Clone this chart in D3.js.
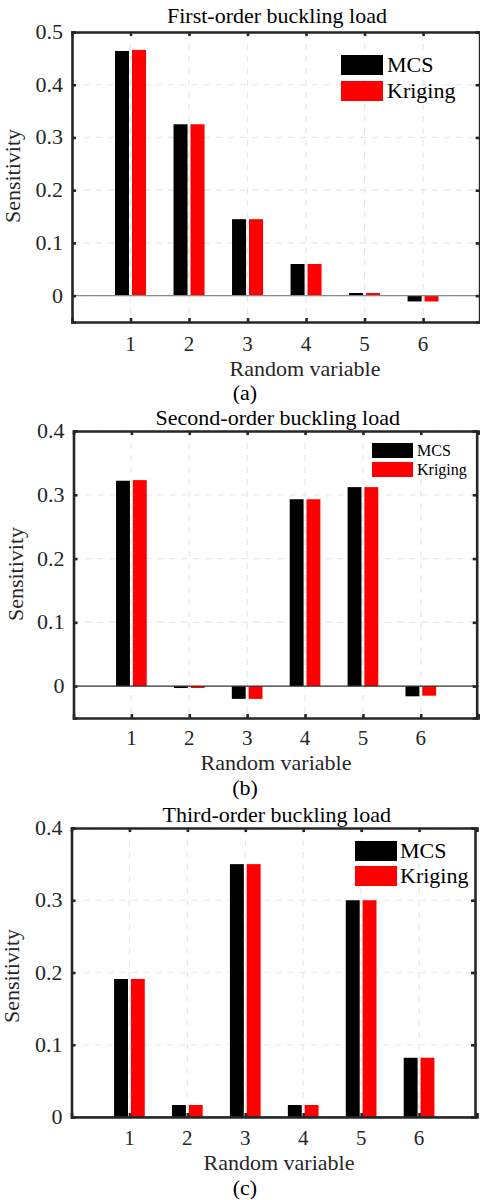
<!DOCTYPE html>
<html>
<head>
<meta charset="utf-8">
<script src="https://cdn.jsdelivr.net/npm/d3@7"></script>
<style>
  body { margin: 0; background: #fff; }
  svg { display: block; }
  svg text { font-family: "Liberation Serif", "DejaVu Serif", serif; }
</style>
</head>
<body>
<svg id="chart" width="480" height="1200"></svg>
<script>
const variables = [1, 2, 3, 4, 5, 6]
const seriesNames = ["MCS", "Kriging"]
const seriesColors = ["#000000", "#ff0000"]

const titles = ["First-order buckling load", "Second-order buckling load", "Third-order buckling load"]
const captions = ["(a)", "(b)", "(c)"]

const mcsFirst = [0.464, 0.325, 0.145, 0.060, 0.005, -0.011]
const krigingFirst = [0.466, 0.325, 0.145, 0.060, 0.005, -0.011]
const mcsSecond = [0.322, -0.003, -0.020, 0.293, 0.312, -0.016]
const krigingSecond = [0.323, -0.003, -0.020, 0.293, 0.312, -0.015]
const mcsThird = [0.191, 0.0166, 0.350, 0.0166, 0.300, 0.082]
const krigingThird = [0.191, 0.0166, 0.350, 0.0166, 0.300, 0.082]

const yTicksFirst = [0, 0.1, 0.2, 0.3, 0.4, 0.5]
const yTicksOther = [0, 0.1, 0.2, 0.3, 0.4]

const FONT = "Liberation Serif, DejaVu Serif, serif"

// layout of each panel (pixel boxes)
const panels = [
    { left: 72, right: 481.6, top: 32, bottom: 322, yDomain: [-0.05, 0.5], ticks: yTicksFirst,
      series: [mcsFirst, krigingFirst], zeroColor: "#8a8a8a", font: 22,
      legend: { x: 341, y: 55, w: 42, h: 20, gap: 26, tx: 387 },
      titleY: 23, tickY: 351, labelY: 376, labelX: 305, capY: 400, ylabX: 20, ylabY: 176 },
    { left: 73.5, right: 478.7, top: 431, bottom: 718, yDomain: [-0.05, 0.4], ticks: yTicksOther,
      series: [mcsSecond, krigingSecond], zeroColor: "#333333", font: 22,
      legend: { x: 372, y: 443, w: 41, h: 15, gap: 19, tx: 417, font: 16 },
      titleY: 425, tickY: 745, labelY: 770, labelX: 276, capY: 795, ylabX: 23, ylabY: 574 },
    { left: 71.5, right: 477, top: 828, bottom: 1117, yDomain: [0, 0.4], ticks: yTicksOther,
      series: [mcsThird, krigingThird], zeroColor: "#262626", font: 22,
      legend: { x: 355, y: 841, w: 42, h: 20, gap: 25, tx: 400 },
      titleY: 822, tickY: 1145, labelY: 1170, labelX: 279, capY: 1195, ylabX: 19, ylabY: 976 }
]

const svg = d3.select("#chart")
const AXIS = "#262626"

function label(sel, size) {
    return sel.attr("font-family", FONT).attr("font-size", size)
}

panels.forEach((p, k) => {
    const g = svg.append("g")
    const x = d3.scaleLinear().domain([0, 7]).range([p.left, p.right])
    const y = d3.scaleLinear().domain(p.yDomain).range([p.bottom, p.top])
    const step = x(1) - x(0)
    const barW = step * 0.24
    const offset = step * 0.145

    // dashed grid
    g.append("g").selectAll("line").data(variables).join("line")
        .attr("x1", d => x(d)).attr("x2", d => x(d))
        .attr("y1", p.top).attr("y2", p.bottom)
        .attr("stroke", "#e8e8e8").attr("stroke-width", 1.2).attr("stroke-dasharray", "6,6")
    g.append("g").selectAll("line").data(p.ticks).join("line")
        .attr("x1", p.left).attr("x2", p.right)
        .attr("y1", d => y(d)).attr("y2", d => y(d))
        .attr("stroke", "#e8e8e8").attr("stroke-width", 1.2).attr("stroke-dasharray", "6,6")

    // bars
    p.series.forEach((vals, s) => {
        g.append("g").selectAll("rect").data(vals).join("rect")
            .attr("x", (d, i) => x(variables[i]) + (s === 0 ? -offset : offset) - barW / 2)
            .attr("y", d => y(Math.max(0, d)))
            .attr("width", barW)
            .attr("height", d => Math.abs(y(d) - y(0)))
            .attr("fill", seriesColors[s])
    })

    // zero baseline
    g.append("line")
        .attr("x1", p.left).attr("x2", p.right)
        .attr("y1", y(0)).attr("y2", y(0))
        .attr("stroke", p.zeroColor).attr("stroke-width", 1.2)

    // axes, ticks pointing inward
    const xAxis = d3.axisBottom(x).tickValues(variables).tickSize(-4).tickFormat("")
    const xTop = d3.axisTop(x).tickValues(variables).tickSize(-4).tickFormat("")
    const yAxis = d3.axisLeft(y).tickValues(p.ticks).tickSize(-4).tickFormat("")
    const yRight = d3.axisRight(y).tickValues(p.ticks).tickSize(-4).tickFormat("")

    const axes = [
        g.append("g").attr("transform", `translate(0,${p.bottom})`).call(xAxis),
        g.append("g").attr("transform", `translate(0,${p.top})`).call(xTop),
        g.append("g").attr("transform", `translate(${p.left},0)`).call(yAxis),
        g.append("g").attr("transform", `translate(${p.right - 2},0)`).call(yRight)
    ]
    axes.forEach(a => {
        a.select(".domain").attr("stroke", AXIS).attr("stroke-width", 2.6)
        a.selectAll(".tick line").attr("stroke", AXIS).attr("stroke-width", 2.6)
    })

    // tick labels
    label(g.append("g").selectAll("text").data(variables).join("text"), 21)
        .attr("x", d => x(d)).attr("y", p.tickY)
        .attr("text-anchor", "middle").attr("fill", AXIS)
        .text(d => d)
    label(g.append("g").selectAll("text").data(p.ticks).join("text"), 22)
        .attr("x", p.left - 9).attr("y", d => y(d) + 7)
        .attr("text-anchor", "end").attr("fill", AXIS)
        .text(d => d === 0 ? "0" : d3.format(".1f")(d))

    // title, axis labels, caption
    label(g.append("text"), p.font).attr("x", (p.left + 482) / 2).attr("y", p.titleY)
        .attr("text-anchor", "middle").attr("fill", "#000")
        .text(titles[k])
    label(g.append("text"), p.font).attr("x", p.labelX).attr("y", p.labelY)
        .attr("text-anchor", "middle").attr("fill", AXIS)
        .text("Random variable")
    label(g.append("text"), p.font)
        .attr("transform", `translate(${p.ylabX},${p.ylabY}) rotate(-90)`)
        .attr("text-anchor", "middle").attr("fill", AXIS)
        .text("Sensitivity")
    label(g.append("text"), 22).attr("x", 245).attr("y", p.capY)
        .attr("text-anchor", "middle").attr("fill", "#000")
        .text(captions[k])

    // legend
    const L = p.legend
    const lf = L.font || p.font
    seriesNames.forEach((name, s) => {
        g.append("rect")
            .attr("x", L.x).attr("y", L.y + s * L.gap)
            .attr("width", L.w).attr("height", L.h)
            .attr("fill", seriesColors[s])
        label(g.append("text"), lf)
            .attr("x", L.tx).attr("y", L.y + s * L.gap + L.h / 2 + lf * 0.33)
            .attr("fill", "#000")
            .text(name)
    })
})
</script>
</body>
</html>
